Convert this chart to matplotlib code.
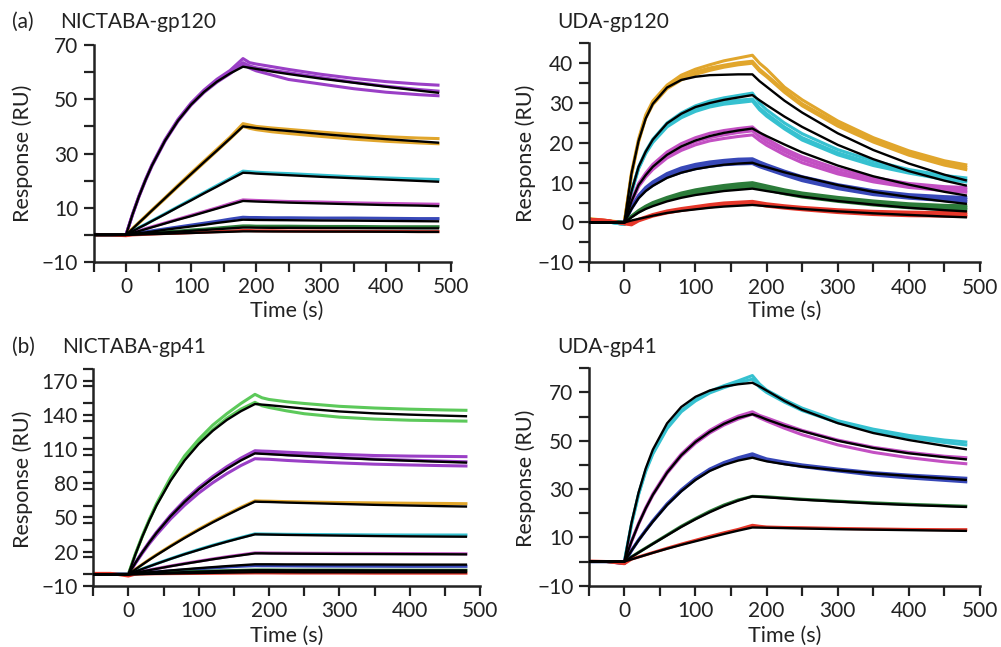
import matplotlib
matplotlib.use("Agg")
import matplotlib.pyplot as plt
from matplotlib.ticker import MultipleLocator, FixedLocator

plt.rcParams['font.family'] = ['Lato', 'DejaVu Sans']

W, H = 1001, 647

# ---------------- shared time grid (s) ----------------
time_s = [-50, -25, 0, 10, 20, 30, 40, 60, 80, 100, 120, 140, 160, 180,
          190, 200, 225, 250, 300, 350, 400, 450, 480]

# ---------------- (a) NICTABA-gp120 ----------------
nic120_fit = [
    [0, 0, 0, 7.5, 14.2, 20.2, 25.6, 34.7, 42.1, 48.0, 52.7, 56.5, 59.5, 62.0, 61.6, 61.2, 60.2, 59.3, 57.6, 56.1, 54.6, 53.2, 52.4],
    [0, 0, 0, 2.2, 4.5, 6.7, 9.0, 13.5, 18.0, 22.4, 26.8, 31.1, 35.5, 40.0, 39.7, 39.4, 38.8, 38.3, 37.2, 36.2, 35.3, 34.5, 34.0],
    [0, 0, 0, 1.3, 2.6, 3.8, 5.1, 7.6, 10.2, 12.7, 15.3, 17.8, 20.4, 22.9, 22.8, 22.6, 22.3, 22.0, 21.4, 20.9, 20.4, 19.9, 19.6],
    [0, 0, 0, 0.7, 1.4, 2.1, 2.8, 4.2, 5.6, 6.9, 8.3, 9.7, 11.1, 12.5, 12.4, 12.3, 12.1, 11.9, 11.6, 11.3, 11.0, 10.8, 10.6],
    [0, 0, 0, 0.3, 0.6, 0.9, 1.2, 1.9, 2.5, 3.1, 3.7, 4.4, 5.0, 5.6, 5.55, 5.5, 5.45, 5.4, 5.3, 5.25, 5.15, 5.05, 5.0],
    [0, 0, 0, 0.15, 0.3, 0.45, 0.6, 0.9, 1.2, 1.5, 1.8, 2.1, 2.4, 2.7, 2.7, 2.65, 2.6, 2.6, 2.55, 2.5, 2.45, 2.4, 2.4],
    [0, 0, 0, 0.07, 0.14, 0.2, 0.27, 0.4, 0.55, 0.7, 0.85, 1.0, 1.15, 1.3, 1.3, 1.3, 1.25, 1.25, 1.2, 1.2, 1.15, 1.1, 1.1],
]
nic120_rep_conc = [0, 0, 0, 1, 1, 2, 3, 4, 5, 6]
nic120_rep = [
    [0.2, 0, 0, 7.6, 14.4, 20.4, 25.9, 35.1, 42.6, 48.6, 53.4, 57.4, 60.6, 65.0, 63.5, 63.0, 62.0, 61.0, 59.2, 57.7, 56.5, 55.6, 55.2],
    [0, 0.1, 0, 7.5, 14.3, 20.3, 25.7, 34.8, 42.3, 48.3, 53.0, 56.9, 60.0, 63.5, 62.3, 61.6, 60.6, 59.8, 58.0, 56.3, 54.8, 53.6, 53.0],
    [-0.1, 0, 0, 7.4, 14.1, 20.0, 25.4, 34.5, 41.9, 47.8, 52.5, 56.3, 59.4, 63.0, 61.5, 60.5, 58.9, 57.3, 55.6, 53.9, 52.6, 51.7, 51.3],
    [0, 0, 0, 2.3, 4.6, 6.9, 9.2, 13.7, 18.3, 22.8, 27.2, 31.6, 36.0, 41.0, 40.5, 40.0, 39.4, 38.9, 37.9, 37.0, 36.2, 35.7, 35.5],
    [0, 0, 0, 2.2, 4.4, 6.6, 8.9, 13.3, 17.8, 22.2, 26.6, 31.0, 35.4, 40.0, 39.3, 38.8, 38.0, 37.4, 36.3, 35.3, 34.5, 33.9, 33.6],
    [0, 0, 0, 1.3, 2.7, 3.9, 5.2, 7.8, 10.4, 13.0, 15.6, 18.2, 20.8, 23.5, 23.3, 23.1, 22.8, 22.6, 22.0, 21.4, 21.0, 20.6, 20.4],
    [0, 0, 0, 0.8, 1.5, 2.3, 3.0, 4.4, 5.8, 7.2, 8.6, 10.0, 11.5, 12.9, 12.8, 12.7, 12.5, 12.3, 12.1, 11.8, 11.6, 11.4, 11.3],
    [0, 0, 0, 0.4, 0.8, 1.1, 1.5, 2.2, 2.9, 3.6, 4.3, 5.0, 5.8, 6.5, 6.4, 6.4, 6.3, 6.3, 6.2, 6.2, 6.1, 6.0, 6.0],
    [0, 0, 0, 0.2, 0.4, 0.5, 0.7, 1.1, 1.4, 1.8, 2.1, 2.5, 2.9, 3.3, 3.3, 3.2, 3.2, 3.2, 3.1, 3.1, 3.0, 3.0, 3.0],
    [0, 0, -0.3, 0, 0.1, 0.2, 0.3, 0.5, 0.6, 0.8, 1.0, 1.2, 1.4, 1.6, 1.6, 1.5, 1.5, 1.4, 1.4, 1.3, 1.3, 1.2, 1.2],
]

# ---------------- UDA-gp120 ----------------
uda120_fit = [
    [0, 0, 0, 12.3, 20.5, 26.1, 29.8, 33.9, 35.8, 36.6, 37.0, 37.1, 37.2, 37.2, 35.5, 34.1, 30.6, 27.6, 22.4, 18.2, 14.8, 12.0, 10.6],
    [0, 0, 0, 7.8, 14.0, 17.8, 20.8, 24.9, 27.3, 29.0, 30.0, 30.8, 31.4, 32.0, 30.7, 29.5, 26.6, 24.0, 19.5, 15.9, 12.9, 10.5, 9.3],
    [0, 0, 0, 5.3, 9.4, 11.9, 14.0, 17.0, 19.1, 20.6, 21.7, 22.5, 23.1, 23.6, 22.6, 21.7, 19.6, 17.6, 14.3, 11.6, 9.5, 7.7, 6.8],
    [0, 0, 0, 3.4, 6.1, 7.9, 9.2, 11.2, 12.5, 13.4, 14.0, 14.5, 14.8, 15.0, 14.4, 13.9, 12.6, 11.5, 9.4, 7.7, 6.4, 5.3, 4.7],
    [0, 0, 0, 1.3, 2.5, 3.4, 4.1, 5.3, 6.2, 6.9, 7.4, 7.9, 8.2, 8.5, 8.2, 7.9, 7.2, 6.5, 5.4, 4.5, 3.7, 3.1, 2.8],
    [0, 0, 0, 0.5, 0.9, 1.3, 1.7, 2.4, 2.9, 3.3, 3.7, 4.0, 4.2, 4.4, 4.25, 4.1, 3.75, 3.4, 2.8, 2.3, 1.9, 1.5, 1.3],
]
uda120_rep_conc = [0, 0, 0, 1, 1, 1, 2, 2, 2, 3, 3, 3, 4, 4, 4, 5, 5, 5]
uda120_rep = [
    [1.0, 0.5, 0, 12.5, 21.0, 27.0, 30.5, 34.5, 37.0, 38.5, 39.6, 40.6, 41.3, 42.0, 40.0, 38.5, 34.0, 30.8, 25.5, 21.3, 18.0, 15.5, 14.5],
    [0.8, 0.4, 0, 12.0, 20.5, 26.5, 30.0, 34.0, 36.3, 37.8, 38.8, 39.5, 40.1, 40.5, 38.5, 37.0, 33.2, 29.8, 24.8, 20.7, 17.4, 15.0, 13.9],
    [0.6, 0.3, 0, 12.0, 20.3, 26.2, 29.6, 33.6, 35.8, 37.2, 38.2, 39.0, 39.6, 40.0, 38.0, 36.6, 32.7, 29.3, 24.2, 20.2, 16.9, 14.4, 13.3],
    [0.5, 0.2, -0.5, 7.8, 14.0, 17.9, 20.9, 25.0, 27.5, 29.3, 30.5, 31.3, 31.9, 32.5, 30.0, 28.3, 25.0, 22.3, 18.3, 15.5, 13.3, 11.8, 11.2],
    [0.5, 0.2, -0.5, 7.6, 13.7, 17.5, 20.4, 24.4, 26.8, 28.5, 29.6, 30.3, 30.7, 31.0, 28.8, 27.3, 24.0, 21.3, 17.5, 14.8, 12.8, 11.2, 10.6],
    [0.5, 0.2, -0.5, 7.5, 13.5, 17.3, 20.1, 24.0, 26.3, 27.9, 29.0, 29.7, 30.1, 30.5, 28.3, 26.7, 23.5, 20.7, 17.0, 14.3, 12.4, 10.8, 10.2],
    [0.5, 0.3, 0, 5.5, 9.8, 12.4, 14.6, 17.7, 19.8, 21.3, 22.4, 23.1, 23.6, 24.0, 22.5, 21.0, 18.5, 16.5, 13.5, 11.3, 9.8, 9.0, 8.8],
    [0.5, 0.3, 0, 5.2, 9.3, 11.8, 13.8, 16.8, 18.8, 20.3, 21.3, 22.0, 22.6, 23.0, 21.5, 20.2, 17.8, 15.8, 12.8, 10.7, 9.3, 8.5, 8.2],
    [0.5, 0.3, 0, 5.0, 9.0, 11.4, 13.3, 16.2, 18.1, 19.5, 20.5, 21.1, 21.6, 22.0, 20.6, 19.4, 17.0, 15.0, 12.2, 10.2, 8.8, 8.0, 7.6],
    [0.5, 0.3, 0, 3.8, 6.8, 8.8, 10.2, 12.3, 13.7, 14.6, 15.2, 15.6, 15.9, 16.0, 15.2, 14.5, 12.9, 11.5, 9.5, 8.0, 7.0, 6.5, 6.3],
    [0.5, 0.3, 0, 3.6, 6.5, 8.4, 9.8, 11.9, 13.2, 14.1, 14.7, 15.1, 15.4, 15.5, 14.7, 14.0, 12.4, 11.0, 9.0, 7.5, 6.6, 6.0, 5.8],
    [0.5, 0.3, 0, 3.4, 6.2, 8.0, 9.3, 11.4, 12.6, 13.5, 14.1, 14.5, 14.7, 14.8, 14.0, 13.4, 11.9, 10.5, 8.5, 7.0, 6.1, 5.5, 5.2],
    [0.6, 0.3, 0, 1.6, 3.0, 4.1, 5.0, 6.3, 7.4, 8.2, 8.8, 9.3, 9.7, 10.0, 9.6, 9.2, 8.2, 7.4, 6.3, 5.4, 4.7, 4.3, 4.2],
    [0.6, 0.3, 0, 1.5, 2.8, 3.9, 4.7, 6.0, 7.0, 7.8, 8.4, 8.9, 9.2, 9.5, 9.1, 8.7, 7.7, 6.9, 5.8, 4.9, 4.2, 3.8, 3.7],
    [0.6, 0.3, 0, 1.4, 2.6, 3.6, 4.4, 5.6, 6.6, 7.3, 7.9, 8.4, 8.7, 9.0, 8.6, 8.2, 7.2, 6.4, 5.3, 4.4, 3.7, 3.3, 3.2],
    [0.8, 0.5, -0.3, 0.0, 0.8, 1.4, 2.0, 2.9, 3.5, 4.0, 4.5, 4.9, 5.1, 5.3, 5.0, 4.7, 4.2, 3.8, 3.2, 2.8, 2.6, 2.5, 2.5],
    [0.8, 0.5, -0.3, -0.4, 0.6, 1.2, 1.8, 2.6, 3.2, 3.7, 4.1, 4.5, 4.8, 5.0, 4.7, 4.4, 3.9, 3.5, 2.8, 2.4, 2.1, 2.0, 1.9],
    [0.8, 0.5, -0.3, -0.6, 0.4, 1.0, 1.6, 2.4, 3.0, 3.5, 3.9, 4.3, 4.5, 4.7, 4.4, 4.1, 3.6, 3.2, 2.5, 2.0, 1.7, 1.6, 1.5],
]

# ---------------- (b) NICTABA-gp41 ----------------
nic41_fit = [
    [0, 0, 0, 17.5, 33.3, 47.5, 60.4, 82.2, 100.0, 114.4, 126.0, 135.5, 143.2, 149.5, 149.0, 148.5, 147.0, 145.5, 143.0, 141.3, 140.2, 139.3, 138.8],
    [0, 0, 0, 10.0, 19.4, 28.1, 36.3, 50.9, 63.6, 74.7, 84.2, 92.6, 100.0, 106.2, 105.8, 105.5, 104.6, 103.8, 102.2, 100.8, 99.7, 98.7, 98.1],
    [0, 0, 0, 4.3, 8.6, 12.8, 16.8, 24.5, 31.9, 38.9, 45.6, 51.9, 58.0, 63.8, 63.6, 63.5, 63.0, 62.6, 61.8, 61.0, 60.4, 59.8, 59.5],
    [0, 0, 0, 2.4, 4.7, 7.0, 9.2, 13.5, 17.6, 21.4, 25.1, 28.6, 31.9, 35.1, 35.0, 34.9, 34.6, 34.4, 34.0, 33.6, 33.3, 33.1, 33.0],
    [0, 0, 0, 1.2, 2.5, 3.7, 4.8, 7.1, 9.2, 11.2, 13.2, 15.0, 16.7, 18.4, 18.4, 18.3, 18.2, 18.1, 17.9, 17.8, 17.7, 17.6, 17.5],
    [0, 0, 0, 0.6, 1.2, 1.8, 2.3, 3.4, 4.4, 5.4, 6.3, 7.2, 8.0, 8.8, 8.8, 8.8, 8.7, 8.7, 8.6, 8.6, 8.5, 8.5, 8.5],
    [0, 0, 0, 0.25, 0.5, 0.75, 1.0, 1.4, 1.9, 2.3, 2.7, 3.0, 3.3, 3.6, 3.6, 3.6, 3.5, 3.5, 3.5, 3.4, 3.4, 3.4, 3.4],
    [0, 0, 0, 0.1, 0.2, 0.35, 0.45, 0.7, 0.9, 1.1, 1.3, 1.5, 1.7, 1.9, 1.9, 1.9, 1.9, 1.8, 1.8, 1.8, 1.8, 1.8, 1.8],
]
nic41_rep_conc = [0, 0, 1, 1, 1, 2, 3, 4, 5, 6, 7]
nic41_rep = [
    [0, 0, 0, 17.9, 34.0, 48.5, 62.0, 85.0, 104.0, 118.5, 131.0, 141.0, 150.0, 158.0, 155.0, 153.5, 151.5, 150.0, 147.5, 146.0, 145.0, 144.3, 144.0],
    [0, 0, 0, 17.6, 33.5, 47.8, 61.0, 83.0, 101.0, 115.5, 127.0, 137.0, 145.0, 151.0, 148.0, 146.5, 143.5, 141.0, 138.0, 136.3, 135.3, 134.8, 134.5],
    [0, 0, 0, 10.2, 19.8, 28.7, 37.0, 51.9, 64.9, 76.2, 85.9, 94.5, 102.0, 108.5, 108.2, 108.0, 107.2, 106.5, 105.3, 104.3, 103.8, 103.5, 103.3],
    [0, 0, 0, 10.0, 19.5, 28.3, 36.5, 51.2, 64.0, 75.2, 84.8, 93.2, 100.6, 106.8, 106.3, 106.0, 105.0, 104.2, 102.6, 101.2, 100.2, 99.3, 98.8],
    [0, 0, 0, 9.6, 18.6, 27.0, 34.7, 48.6, 60.7, 71.3, 80.4, 88.4, 95.5, 101.5, 101.2, 101.0, 100.0, 99.2, 97.8, 96.7, 96.0, 95.4, 95.1],
    [0, 0, 0, 4.4, 8.8, 13.1, 17.2, 25.0, 32.5, 39.6, 46.3, 52.7, 58.8, 64.5, 64.3, 64.2, 63.8, 63.5, 63.0, 62.7, 62.4, 62.2, 62.0],
    [0, 0, 0, 2.4, 4.8, 7.1, 9.4, 13.7, 17.9, 21.8, 25.5, 29.0, 32.3, 35.5, 35.4, 35.3, 35.1, 35.0, 34.8, 34.6, 34.5, 34.5, 34.5],
    [0, 0, 0, 1.3, 2.6, 3.8, 5.0, 7.3, 9.5, 11.5, 13.5, 15.4, 17.1, 18.8, 18.8, 18.7, 18.6, 18.5, 18.4, 18.3, 18.2, 18.1, 18.0],
    [0.3, 0.2, 0, 0.5, 1.0, 1.5, 2.0, 3.0, 3.9, 4.8, 5.6, 6.4, 7.1, 7.6, 7.5, 7.5, 7.4, 7.3, 7.2, 7.1, 7.0, 7.0, 7.0],
    [0, 0, 0, 0.3, 0.6, 0.9, 1.2, 1.6, 2.1, 2.5, 2.9, 3.2, 3.5, 3.8, 3.8, 3.8, 3.7, 3.7, 3.7, 3.6, 3.6, 3.6, 3.6],
    [0.8, 0.8, -1.5, 0.2, 0.3, 0.4, 0.5, 0.6, 0.7, 0.8, 0.9, 1.0, 1.1, 1.2, 1.2, 1.2, 1.1, 1.1, 1.1, 1.0, 1.0, 1.0, 1.0],
]

# ---------------- UDA-gp41 ----------------
uda41_fit = [
    [0, 0, 0, 16.0, 28.6, 38.5, 46.3, 57.2, 64.0, 68.2, 70.8, 72.4, 73.4, 74.0, 72.5, 70.8, 66.5, 62.8, 57.3, 53.2, 50.3, 47.9, 46.5],
    [0, 0, 0, 8.3, 15.6, 22.0, 27.6, 36.8, 44.0, 49.5, 53.7, 57.0, 59.5, 61.0, 60.0, 58.8, 56.2, 54.0, 50.0, 47.0, 44.8, 43.2, 42.3],
    [0, 0, 0, 4.5, 8.8, 12.7, 16.5, 23.4, 29.1, 33.8, 37.5, 40.0, 41.8, 43.0, 42.2, 41.5, 40.3, 39.3, 37.8, 36.5, 35.4, 34.4, 33.8],
    [0, 0, 0, 1.9, 3.7, 5.5, 7.3, 10.8, 14.3, 17.5, 20.4, 23.0, 25.2, 27.0, 26.8, 26.6, 26.1, 25.6, 24.8, 24.0, 23.4, 22.9, 22.6],
    [0, 0, 0, 0.9, 1.8, 2.7, 3.6, 5.3, 6.9, 8.4, 9.9, 11.4, 12.8, 14.1, 14.05, 14.0, 13.85, 13.7, 13.4, 13.2, 13.0, 12.8, 12.7],
]
uda41_rep_conc = [0, 0, 1, 1, 2, 2, 3, 4]
uda41_rep = [
    [0, 0, 0, 15.5, 28.0, 37.8, 45.0, 55.5, 62.5, 67.0, 70.5, 72.8, 74.8, 77.0, 73.5, 71.0, 67.0, 63.5, 58.3, 54.8, 52.2, 50.3, 49.5],
    [0, 0, 0, 15.3, 27.8, 37.3, 44.5, 55.0, 62.0, 66.5, 69.8, 72.0, 74.0, 75.5, 72.2, 70.0, 66.0, 62.5, 57.5, 54.0, 51.3, 49.3, 48.3],
    [0, 0, 0, 8.4, 15.8, 22.3, 28.0, 37.3, 44.5, 50.0, 54.3, 57.6, 60.2, 62.0, 60.5, 59.5, 56.8, 54.3, 50.3, 47.3, 45.2, 43.6, 43.0],
    [0, 0, 0, 8.2, 15.5, 21.8, 27.4, 36.5, 43.6, 49.0, 53.2, 56.5, 59.0, 61.0, 59.5, 58.2, 55.2, 52.5, 48.3, 45.2, 43.0, 41.3, 40.5],
    [0, 0, -0.8, 4.6, 9.0, 13.0, 16.9, 23.9, 29.7, 34.5, 38.3, 41.0, 43.0, 44.6, 43.5, 42.5, 41.2, 40.0, 38.3, 36.8, 35.8, 35.0, 34.5],
    [0, 0, -0.8, 4.5, 8.8, 12.8, 16.6, 23.5, 29.2, 34.0, 37.8, 40.4, 42.4, 43.8, 42.8, 41.8, 40.5, 39.3, 37.5, 35.8, 34.6, 33.6, 33.0],
    [0, 0, -0.5, 1.9, 3.8, 5.6, 7.4, 11.0, 14.6, 17.8, 20.8, 23.4, 25.5, 27.0, 26.9, 26.8, 26.3, 25.8, 25.0, 24.3, 23.7, 23.2, 22.9],
    [0.2, 0, -0.9, 1.0, 1.9, 2.8, 3.7, 5.5, 7.2, 8.8, 10.4, 11.9, 13.3, 15.0, 14.6, 14.3, 14.1, 14.0, 13.7, 13.5, 13.3, 13.2, 13.2],
]

# ---------------- axis tick labels ----------------
x_labeled = [0, 100, 200, 300, 400, 500]
nic120_yticks = [-10, 10, 30, 50, 70]
uda120_yticks = [-10, 0, 10, 20, 30, 40]
nic41_yticks = [-10, 20, 50, 80, 110, 140, 170]
uda41_yticks = [-10, 10, 30, 50, 70]

# ---------------- styles ----------------
PURPLE = '#9a3fc6'
GOLD = '#e1a62c'
CYAN = '#36c1d0'
PINK = '#c350c3'
BLUE = '#3848b8'
DGREEN = '#2c7c3a'
RED = '#e6372a'
LGREEN = '#5cc95a'

nic120_colors = [PURPLE, GOLD, CYAN, PINK, BLUE, DGREEN, RED]
uda120_colors = [GOLD, CYAN, PINK, BLUE, DGREEN, RED]
nic41_colors = [LGREEN, PURPLE, GOLD, CYAN, PINK, BLUE, DGREEN, RED]
uda41_colors = [CYAN, PINK, BLUE, DGREEN, RED]

TXT = '#222222'
TICK_FS = 15
TITLE_FS = 15
LABEL_FS = 15.5

fig = plt.figure(figsize=(W / 100, H / 100), dpi=100)


def px_rect(left, right, top, bottom):
    return [left / W, 1 - bottom / H, (right - left) / W, (bottom - top) / H]


def draw_panel(rect, fits, reps, rep_conc, colors, ylim, yticks, yminor):
    ax = fig.add_axes(rect)
    for conc, vals in zip(rep_conc, reps):
        ax.plot(time_s, vals, color=colors[conc], lw=2.2, solid_joinstyle='round', zorder=2)
    for vals in fits:
        ax.plot(time_s, vals, color='black', lw=1.7, solid_joinstyle='round', zorder=3)
    ax.set_xlim(-50, 500)
    ax.set_ylim(*ylim)
    ax.xaxis.set_major_locator(FixedLocator(x_labeled))
    ax.xaxis.set_minor_locator(MultipleLocator(50))
    ax.yaxis.set_major_locator(FixedLocator(yticks))
    ax.yaxis.set_minor_locator(MultipleLocator(yminor))
    for s in ['top', 'right']:
        ax.spines[s].set_visible(False)
    for s in ['left', 'bottom']:
        ax.spines[s].set_linewidth(1.8)
        ax.spines[s].set_color(TXT)
    ax.tick_params(which='both', direction='out', length=7, width=1.6, color=TXT)
    ax.tick_params(which='major', labelsize=TICK_FS, pad=4, labelcolor=TXT)
    ax.set_yticklabels([('\u2212' + str(-v)) if v < 0 else str(v) for v in yticks])
    ax.patch.set_alpha(0)
    return ax


ax1 = draw_panel(px_rect(93.5, 451, 45, 262), nic120_fit, nic120_rep, nic120_rep_conc,
                 nic120_colors, (-10, 70), nic120_yticks, 10)
ax2 = draw_panel(px_rect(588.8, 980, 43.3, 262.3), uda120_fit, uda120_rep, uda120_rep_conc,
                 uda120_colors, (-10, 45), uda120_yticks, 5)
ax3 = draw_panel(px_rect(93.2, 480, 369.3, 585.7), nic41_fit, nic41_rep, nic41_rep_conc,
                 nic41_colors, (-10, 180), nic41_yticks, 15)
ax4 = draw_panel(px_rect(588.8, 980, 368.3, 585.7), uda41_fit, uda41_rep, uda41_rep_conc,
                 uda41_colors, (-10, 80), uda41_yticks, 10)


def ftext(x, y, s, fs, **kw):
    fig.text(x / W, 1 - y / H, s, fontsize=fs, color=TXT, **kw)


# panel titles
ftext(12, 28, '(a)', TITLE_FS, ha='left', va='baseline')
ftext(60, 28, 'NICTABA-gp120', TITLE_FS, ha='left', va='baseline')
ftext(557, 28, 'UDA-gp120', TITLE_FS, ha='left', va='baseline')
ftext(12, 353, '(b)', TITLE_FS, ha='left', va='baseline')
ftext(62, 353, 'NICTABA-gp41', TITLE_FS, ha='left', va='baseline')
ftext(557, 353, 'UDA-gp41', TITLE_FS, ha='left', va='baseline')

# axis labels
for (x, y) in [(287, 311), (785, 311), (287, 636), (785, 636)]:
    ftext(x, y, 'Time (s)', LABEL_FS, ha='center', va='center')
for (x, y) in [(22.5, 153), (526, 153), (22.5, 479), (526, 478)]:
    ftext(x, y, 'Response (RU)', LABEL_FS, ha='center', va='center', rotation=90)

fig.savefig('out.png', dpi=100, facecolor='white')
